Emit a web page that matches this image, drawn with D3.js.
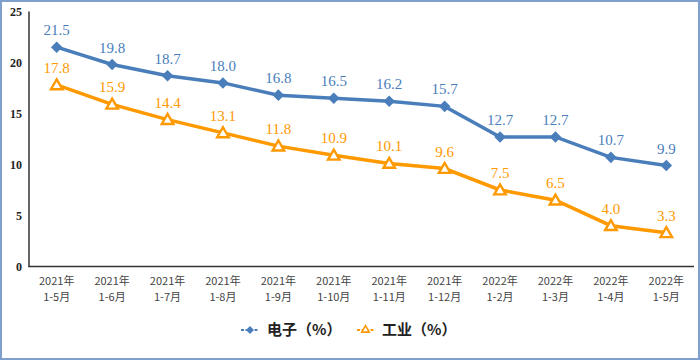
<!DOCTYPE html>
<html><head><meta charset="utf-8">
<script src="https://cdn.jsdelivr.net/npm/d3@7/dist/d3.min.js"></script>
<style>body{margin:0;background:#fff}svg{display:block}</style>
</head><body><svg id="c" width="700" height="360"></svg>
<script>
const years = ["2021年","2021年","2021年","2021年","2021年","2021年","2021年","2021年","2022年","2022年","2022年","2022年"];
const months = ["1-5月","1-6月","1-7月","1-8月","1-9月","1-10月","1-11月","1-12月","1-2月","1-3月","1-4月","1-5月"];
const electronics = [21.5,19.8,18.7,18.0,16.8,16.5,16.2,15.7,12.7,12.7,10.7,9.9];
const industry = [17.8,15.9,14.4,13.1,11.8,10.9,10.1,9.6,7.5,6.5,4.0,3.3];
const yTicks = [0,5,10,15,20,25];
const seriesNames = ["电子（%）","工业（%）"];

const svg = d3.select("#c");
const blue = "#4a7ebb", orange = "#ff9900";
svg.append("rect").attr("x",1).attr("y",1).attr("width",698).attr("height",358)
  .attr("fill","#fff").attr("stroke","#7fa0cf").attr("stroke-width",2);

const idx = d3.range(years.length);
const x = d3.scaleBand().domain(idx).range([29,694]);
const y = d3.scaleLinear().domain([0,25]).range([266.5,11.5]);
const cx = i => x(i)+x.bandwidth()/2;

svg.append("g").selectAll("text").data(yTicks).join("text")
  .attr("x",22).attr("y",d=>y(d)).attr("dy","0.35em").attr("text-anchor","end")
  .attr("font-family","Liberation Serif, serif").attr("font-size",12).attr("font-weight","bold")
  .attr("fill","#222").text(d=>d);

svg.append("line").attr("x1",29).attr("x2",29).attr("y1",y(25)).attr("y2",y(0)+0.5)
  .attr("stroke","#333").attr("stroke-width",1.5);
svg.append("line").attr("x1",28.5).attr("x2",694).attr("y1",y(0)).attr("y2",y(0))
  .attr("stroke","#333").attr("stroke-width",1.5);

const xl = svg.append("g").attr("font-family","Noto Sans CJK SC, sans-serif").attr("font-size",11).attr("fill","#444");
xl.selectAll("text.yr").data(idx).join("text").attr("class","yr")
  .attr("x",cx).attr("y",285).attr("text-anchor","middle").text(i=>years[i]);
xl.selectAll("text.mo").data(idx).join("text").attr("class","mo")
  .attr("x",cx).attr("y",301).attr("text-anchor","middle").text(i=>months[i]);

const line = d3.line().x((d,i)=>cx(i)).y(d=>y(d));
svg.append("path").datum(electronics).attr("d",line).attr("fill","none")
  .attr("stroke",blue).attr("stroke-width",3.5);
svg.append("path").datum(industry).attr("d",line).attr("fill","none")
  .attr("stroke",orange).attr("stroke-width",3.5);

const diamond = d3.symbol().type(d3.symbolDiamond2).size(85);
const tri = d3.symbol().type(d3.symbolTriangle2).size(95);
svg.append("g").selectAll("path").data(electronics).join("path")
  .attr("d",diamond).attr("transform",(d,i)=>`translate(${cx(i)},${y(d)})`).attr("fill",blue);
svg.append("g").selectAll("path").data(industry).join("path")
  .attr("d",tri).attr("transform",(d,i)=>`translate(${cx(i)},${y(d)+1})`)
  .attr("fill","#fff").attr("stroke",orange).attr("stroke-width",2.4);

const lab = (data,color) => svg.append("g").selectAll("text").data(data).join("text")
  .attr("x",(d,i)=>cx(i)).attr("y",d=>y(d)-12).attr("text-anchor","middle")
  .attr("font-family","Liberation Serif, serif").attr("font-size",15).attr("fill",color)
  .text(d=>d.toFixed(1));
lab(electronics,blue);
lab(industry,orange);

const lg = svg.append("g").attr("font-family","Noto Sans CJK SC, sans-serif").attr("font-size",15).attr("font-weight","bold").attr("fill","#222");
lg.append("line").attr("x1",241).attr("x2",259).attr("y1",330).attr("y2",330).attr("stroke",blue).attr("stroke-width",2).attr("stroke-dasharray","3,1.5");
lg.append("path").attr("d",d3.symbol().type(d3.symbolDiamond2).size(40)).attr("transform","translate(250,330)").attr("fill",blue);
lg.append("text").attr("x",267).attr("y",330).attr("dy","0.35em").text(seriesNames[0]);
lg.append("line").attr("x1",357).attr("x2",374).attr("y1",330).attr("y2",330).attr("stroke",orange).attr("stroke-width",2).attr("stroke-dasharray","3,1.5");
lg.append("path").attr("d",d3.symbol().type(d3.symbolTriangle2).size(40)).attr("transform","translate(365.5,330)").attr("fill","#fff").attr("stroke",orange).attr("stroke-width",1.6);
lg.append("text").attr("x",382).attr("y",330).attr("dy","0.35em").text(seriesNames[1]);
</script></body></html>
